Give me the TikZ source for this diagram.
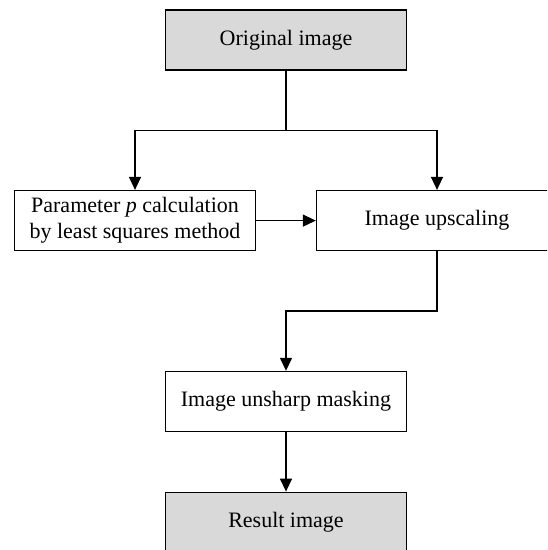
\documentclass[tikz,border=0pt]{standalone}
\usepackage{fontspec}
\setmainfont{Liberation Serif}
\usepackage{tikz}
\usetikzlibrary{calc, arrows.meta}

\begin{document}
\begin{tikzpicture}[x=0.5pt, y=-0.5pt,
      block/.style={
        rectangle,
        draw,
        line width=0.7pt,
        minimum width=120.5pt,
        minimum height=30pt,
        align=center,
        font=\fontsize{11}{13}\selectfont
      },
      term/.style={block, fill=gray!30},
      link/.style={line width=0.7pt, -{Triangle[width=6pt,length=6.5pt]}}]
    \clip (0,0) rectangle (547,550);
    \node[term] (orig) at (286,40) {Original image};
    \node[block] (param) at (135,220.6) {Parameter \textit{p} calculation\\by least squares method};
    \node[block] (upscale) at (437,220.6) {Image upscaling};
    \node[block] (unsharp) at (286,401.5) {Image unsharp masking};
    \node[term] (result) at (286,522.3) {Result image};
    \coordinate (split) at ($(orig.south)!.5!(orig.south |- param.north)$);
    \coordinate (merge) at ($(upscale.south)!.5!(upscale.south |- unsharp.north)$);
    \draw[line width=0.7pt] (orig) -- (split);
    \draw[link] (split) -| (param);
    \draw[link] (split) -| (upscale);
    \draw[link] (param) -- (upscale);
    \draw[link] (upscale) |- (merge) -| (unsharp);
    \draw[link] (unsharp) -- (result);
  \end{tikzpicture}
\end{document}
